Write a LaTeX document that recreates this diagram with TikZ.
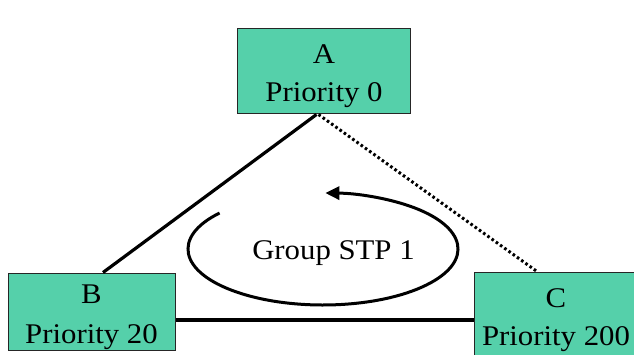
\documentclass[tikz,border=0pt]{standalone}
\usepackage{fontspec}
\setmainfont{Liberation Serif}[FakeStretch=1.08]
\usetikzlibrary{arrows.meta}
\definecolor{boxfill}{RGB}{85,208,170}
\begin{document}
\begin{tikzpicture}[x=1pt,y=1pt,
  bridge/.style={draw=black!85,line width=1pt,fill=boxfill,inner sep=0pt},
  caption/.style={anchor=base,inner sep=0pt,font=\fontsize{28.5}{38}\selectfont},
  link/.style={line width=3.2pt},
  blocked/.style={line width=3pt,dash pattern=on 2.6pt off 2.6pt}]
  \useasboundingbox (0,0) rectangle (634,354);
  \clip (0,0) rectangle (634,354);
  % switches
  \node[bridge,minimum width=173pt,minimum height=85pt] (A) at (323.5,282.5) {};
  \node[bridge,minimum width=167pt,minimum height=77pt] (B) at (91.5,42.5) {};
  \node[bridge,minimum width=164pt,minimum height=84pt] (C) at (556,40) {};
  % names and bridge priorities
  \node[caption] (Aname) at (324,290) {A};
  \node[caption] (Aprio) at (324,252) {Priority 0};
  \node[caption] (Bname) at (91.5,50.7) {B};
  \node[caption] (Bprio) at (91.5,11) {Priority 20};
  \node[caption] (Cname) at (556,47) {C};
  \node[caption] (Cprio) at (556,9) {Priority 200};
  % links between the switches
  \draw[link] ([xshift=-7pt]A.south) -- ([xshift=11.5pt]B.north);
  \draw[blocked] ([xshift=-5pt]A.south) -- ([xshift=-19pt]C.north);
  \coordinate (BCport) at ([yshift=-8.5pt]B.east);
  \draw[link] (BCport) -- (C.west |- BCport);
  % spanning tree group circulation
  \coordinate (loop) at (323,105);
  \draw[line width=3pt,-{Triangle[length=14pt,width=13pt]}]
    ([shift={(140:135pt and 56pt)}]loop) arc[start angle=140,end angle=449,x radius=135pt,y radius=56pt];
  \node[caption] (G) at (333.5,94.7) {Group STP 1};
\end{tikzpicture}
\end{document}
